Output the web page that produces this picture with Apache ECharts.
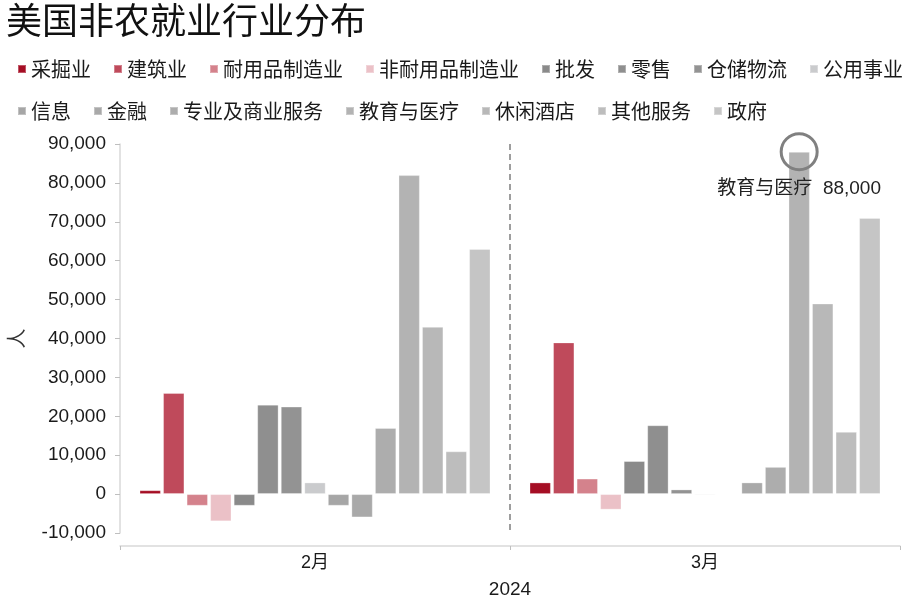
<!DOCTYPE html>
<html>
<head>
<meta charset="utf-8">
<script src="https://cdn.jsdelivr.net/npm/echarts@6/dist/echarts.min.js"></script>
<style>
  html, body { margin: 0; padding: 0; background: #fff; }
  #main { width: 909px; height: 599px; }
</style>
</head>
<body>
<div id="main"></div>
<script>
// 月份
const months = ['2月', '3月'];
// 行业
const industries = ['采掘业', '建筑业', '耐用品制造业', '非耐用品制造业', '批发', '零售', '仓储物流', '公用事业',
  '信息', '金融', '专业及商业服务', '教育与医疗', '休闲酒店', '其他服务', '政府'];
// 各行业新增就业人数
const febValues = [1000, 26000, -3000, -7000, -3000, 23000, 22500, 3000, -3000, -6000, 17000, 82000, 43000, 11000, 63000];
const marValues = [3000, 39000, 4000, -4000, 8500, 17700, 1200, -300, 0, 3000, 7000, 88000, 49000, 16000, 71000];
// y轴刻度
const yTicks = { min: -10000, max: 90000, interval: 10000 };
// 标注
const highlightIndex = 11;

const colors = ['#a50e24', '#bf4a5b', '#d4828c', '#ebc1c7', '#8a8a8a', '#8f8f8f', '#939393', '#cacbcd',
  '#a6a6a6', '#a9a9a9', '#adadad', '#b3b3b3', '#b8b8b8', '#bdbdbd', '#c5c5c5'];

const cjk = "'Noto Sans CJK SC', sans-serif";
const latin = "'Liberation Sans', 'Noto Sans CJK SC', sans-serif";

const series = industries.map(function (name, i) {
  const s = {
    name: name,
    type: 'bar',
    barGap: '10%',
    barCategoryGap: '10%',
    itemStyle: { color: colors[i], borderColor: 'rgba(255,255,255,0.3)', borderWidth: 1 },
    data: [febValues[i], marValues[i]]
  };
  if (i === highlightIndex) {
    s.markPoint = {
      symbol: 'circle',
      symbolSize: 36,
      itemStyle: { color: 'rgba(0,0,0,0)', borderColor: '#808080', borderWidth: 3 },
      label: {
        show: true,
        position: 'bottom',
        distance: 8,
        color: '#222',
        fontSize: 19,
        fontFamily: latin,
        formatter: function () {
          return name + '  ' + marValues[i].toLocaleString('en-US');
        }
      },
      data: [{ coord: [months[1], marValues[i]] }]
    };
  }
  return s;
});

const legendStyle = {
  left: 12,
  width: 895,
  icon: 'rect',
  itemWidth: 8,
  itemHeight: 8,
  itemGap: 22,
  textStyle: { fontSize: 20, color: '#1a1a1a', fontFamily: cjk }
};

const option = {
  animation: false,
  title: {
    text: '美国非农就业行业分布',
    left: 1,
    top: -3,
    textStyle: { fontSize: 36, fontWeight: 'normal', color: '#111', fontFamily: cjk }
  },
  legend: [
    Object.assign({ top: 54, data: industries.slice(0, 8) }, legendStyle),
    Object.assign({ top: 96, data: industries.slice(8) }, legendStyle)
  ],
  grid: { left: 120, right: 9, top: 144, bottom: 66, outerBoundsMode: 'none' },
  xAxis: {
    type: 'category',
    data: months,
    offset: 13,
    name: '2024',
    nameLocation: 'middle',
    nameGap: 34,
    nameTextStyle: { fontSize: 19, color: '#1a1a1a', fontFamily: latin },
    axisLine: { onZero: false, lineStyle: { color: '#d9d9d9', width: 1.5 } },
    axisTick: { show: true, length: 4, lineStyle: { color: '#bfbfbf' } },
    axisLabel: { fontSize: 18, color: '#1a1a1a', fontFamily: latin, margin: 8 },
    splitLine: {
      show: true,
      lineStyle: { color: ['rgba(0,0,0,0)', '#7f7f7f', 'rgba(0,0,0,0)'], type: [6, 4], width: 1.5 }
    }
  },
  yAxis: {
    type: 'value',
    min: yTicks.min,
    max: yTicks.max,
    interval: yTicks.interval,
    name: '人',
    nameLocation: 'middle',
    nameRotate: 90,
    nameGap: 94,
    nameTextStyle: { fontSize: 20, color: '#333', fontFamily: cjk },
    axisLine: { show: true, lineStyle: { color: '#d9d9d9', width: 1.5 } },
    axisTick: { show: true, length: 5, lineStyle: { color: '#bfbfbf' } },
    axisLabel: {
      fontSize: 19,
      color: '#1a1a1a',
      fontFamily: latin,
      margin: 14,
      formatter: function (v) { return v.toLocaleString('en-US'); }
    },
    splitLine: { show: false }
  },
  series: series
};

const myChart = echarts.init(document.getElementById('main'));
myChart.setOption(option);
</script>
</body>
</html>
